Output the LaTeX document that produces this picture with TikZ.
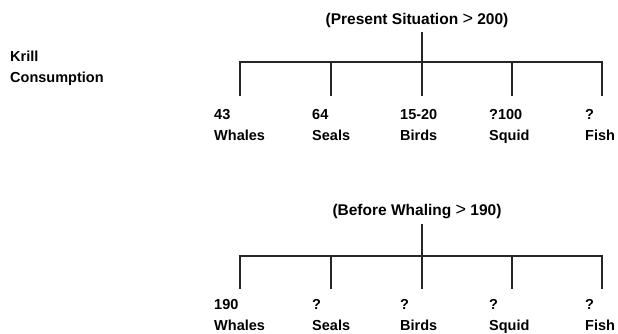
\documentclass[tikz,border=0pt]{standalone}
\usepackage{fontspec}
\setmainfont{Liberation Sans}
\newcommand{\gtsym}{\ {\fontsize{18}{18}\selectfont\mdseries >}\ }
\begin{document}
\begin{tikzpicture}[x=1pt,y=-1pt,
  txt/.style={font=\fontsize{14.5}{21.5}\selectfont\bfseries, inner sep=0pt},
  head/.style={font=\fontsize{15.5}{18}\selectfont\bfseries, inner sep=0pt},
  leaf/.style={txt, anchor=north west, align=left},
  tree/.style={line width=1.8pt, line cap=butt, line join=miter, black!85}]
\useasboundingbox (0,0) rectangle (618,333);

% side caption
\node[txt, anchor=west, align=left] (cap) at (10,68) {Krill\\Consumption};

% ---------- present situation ----------
\node[head] (t1) at (417,20) {(Present Situation\gtsym200)};
\coordinate (s1) at (422,32);
\coordinate (j1) at (422,62);
\foreach \i/\x in {1/240,2/331,3/422,4/512,5/602}{
  \coordinate (a\i) at (\x,62);
  \coordinate (d\i) at (\x,96);
}
\node[leaf] (w1) at (214,109) {43\\Whales};
\node[leaf] (p1) at (312,109) {64\\Seals};
\node[leaf] (b1) at (400,109) {15-20\\Birds};
\node[leaf] (q1) at (489,109) {?100\\Squid};
\node[leaf] (f1) at (585,109) {?\\Fish};
\draw[tree] (s1) -- (j1);
\draw[tree] (d1) -- (a1) -- (a5) -- (d5);
\foreach \i in {2,3,4}{\draw[tree] (a\i) -- (d\i);}

% ---------- before whaling ----------
\node[head] (t2) at (417,212) {(Before Whaling\gtsym190)};
\coordinate (s2) at (422,224);
\coordinate (j2) at (422,256);
\foreach \i/\x in {1/240,2/331,3/422,4/512,5/602}{
  \coordinate (c\i) at (\x,256);
  \coordinate (e\i) at (\x,289);
}
\node[leaf] (w2) at (214,299) {190\\Whales};
\node[leaf] (p2) at (312,299) {?\\Seals};
\node[leaf] (b2) at (400,299) {?\\Birds};
\node[leaf] (q2) at (489,299) {?\\Squid};
\node[leaf] (f2) at (585,299) {?\\Fish};
\draw[tree] (s2) -- (j2);
\draw[tree] (e1) -- (c1) -- (c5) -- (e5);
\foreach \i in {2,3,4}{\draw[tree] (c\i) -- (e\i);}
\end{tikzpicture}
\end{document}
